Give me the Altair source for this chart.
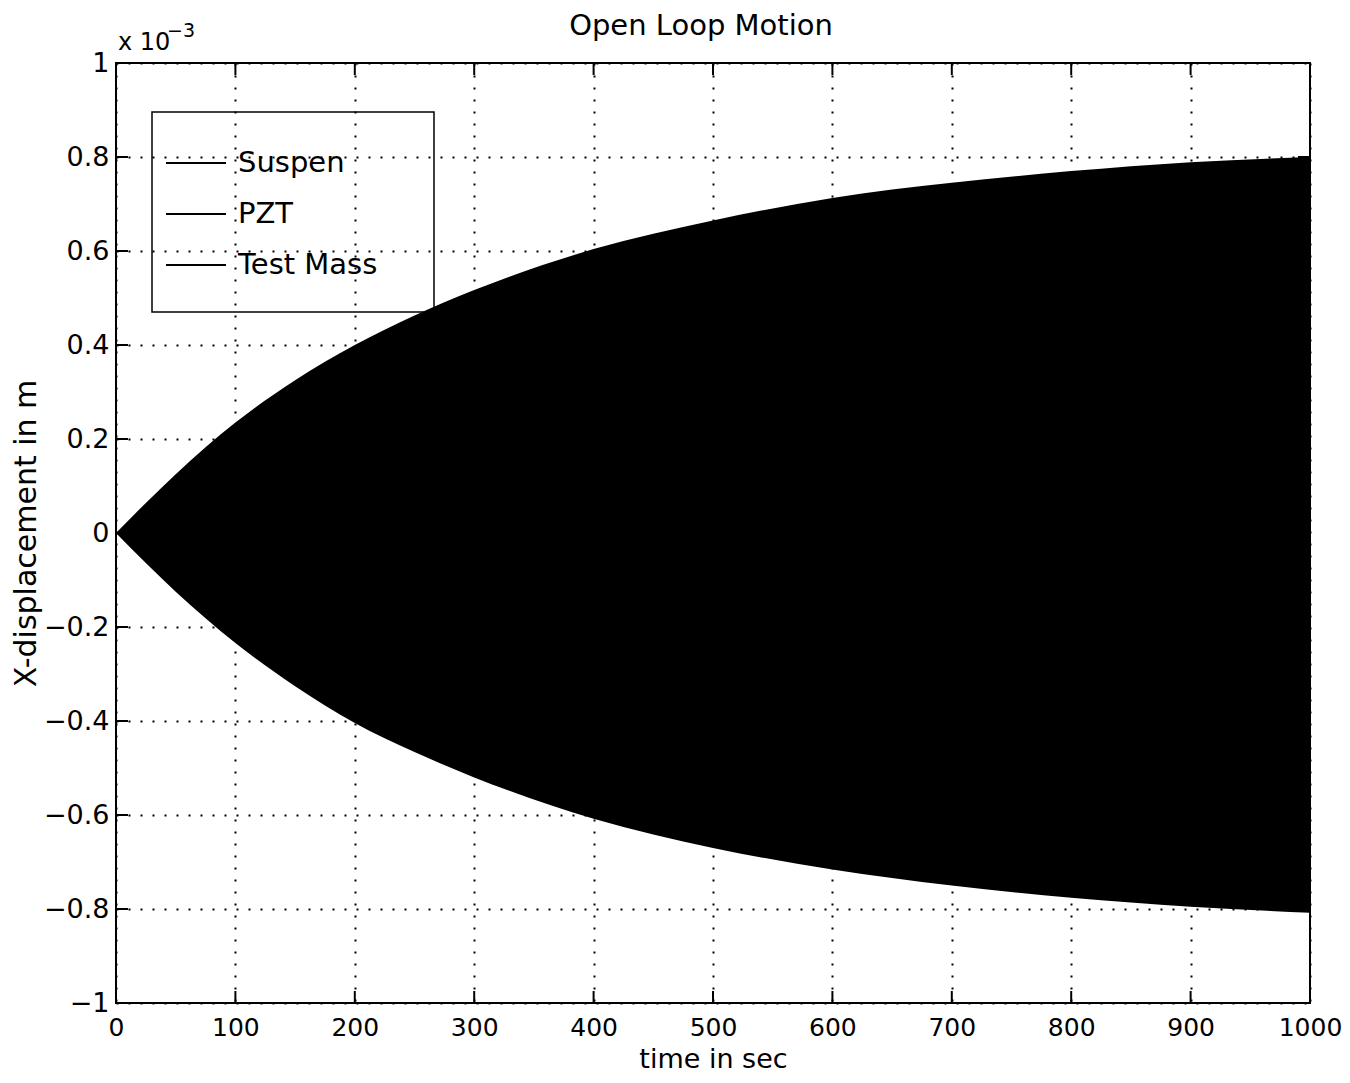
import altair as alt
import pandas as pd

# ---- data (displacement in units of 1e-3 m) ----
time_s = [0, 25, 50, 100, 150, 200, 250, 300, 400, 500, 600, 700, 800, 900, 1000]
upper_env = [0, 0.064, 0.125, 0.235, 0.325, 0.400, 0.463, 0.517, 0.604, 0.665, 0.713, 0.745, 0.770, 0.789, 0.800]
lower_env = [0, -0.064, -0.125, -0.234, -0.326, -0.404, -0.466, -0.520, -0.608, -0.670, -0.716, -0.750, -0.776, -0.795, -0.808]
series_names = ["Suspen", "PZT", "Test Mass"]
x_ticks = [0, 100, 200, 300, 400, 500, 600, 700, 800, 900, 1000]
y_ticks = [-1, -0.8, -0.6, -0.4, -0.2, 0, 0.2, 0.4, 0.6, 0.8, 1]
title_text = "Open Loop Motion"

W, H = 1194, 940
FONT = "DejaVu Sans"
TICK = 12

env_df = pd.DataFrame({
    "t": time_s,
    "upper": upper_env,
    "lower": lower_env,
    "series": ["Test Mass"] * len(time_s),
})
xt_df = pd.DataFrame({"t": x_ticks})
yt_df = pd.DataFrame({"upper": y_ticks})

x_scale = alt.Scale(domain=[0, 1000], nice=False, zero=False)
y_scale = alt.Scale(domain=[-1, 1], nice=False, zero=False)

x_axis = alt.Axis(values=x_ticks, format="d", title="time in sec",
                  labelFontSize=25, labelPadding=12, ticks=False, tickSize=0,
                  labelFlush=False, labelOverlap=False,
                  domain=False, grid=True, titleFontSize=27, titleFontWeight="normal",
                  titleBaseline="alphabetic", titleY=64)
y_axis = alt.Axis(values=y_ticks, format="~g", title="X-displacement in m",
                  labelFontSize=27, labelPadding=7, ticks=False, tickSize=0,
                  labelFlush=False, labelOverlap=False,
                  domain=False, grid=True, titleFontSize=30, titleFontWeight="normal",
                  titleBaseline="alphabetic", titleX=-81, titleY=H / 2, titleAngle=270)

envelope = alt.Chart(env_df).mark_area(interpolate="monotone").encode(
    x=alt.X("t:Q", scale=x_scale, axis=x_axis),
    y=alt.Y("upper:Q", scale=y_scale, axis=y_axis),
    y2="lower:Q",
    color=alt.Color(
        "series:N",
        scale=alt.Scale(domain=series_names, range=["black", "black", "black"]),
        legend=alt.Legend(
            title=None, orient="none", legendX=49, legendY=86, padding=0,
            symbolType="stroke", symbolSize=3600, symbolStrokeColor="black",
            symbolStrokeWidth=1.8, symbolFillColor="black",
            labelFontSize=29, labelFont=FONT, labelOffset=11, labelColor="black",
            clipHeight=28, rowPadding=22,
        ),
    ),
)

bottom_ticks = alt.Chart(xt_df).mark_rule(color="black", strokeWidth=2).encode(
    x=alt.X("t:Q", title="time in sec"), y=alt.value(H), y2=alt.value(H - TICK))
top_ticks = alt.Chart(xt_df).mark_rule(color="black", strokeWidth=2).encode(
    x=alt.X("t:Q", title="time in sec"), y=alt.value(0), y2=alt.value(TICK))
left_ticks = alt.Chart(yt_df).mark_rule(color="black", strokeWidth=2).encode(
    y=alt.Y("upper:Q", title="X-displacement in m"), x=alt.value(0), x2=alt.value(TICK))
right_ticks = alt.Chart(yt_df).mark_rule(color="black", strokeWidth=2).encode(
    y=alt.Y("upper:Q", title="X-displacement in m"), x=alt.value(W), x2=alt.value(W - TICK))

one = alt.Data(values=[{"k": 1}])
legend_box = alt.Chart(one).mark_rect(fillOpacity=0, stroke="black", strokeWidth=1.5).encode(
    x=alt.value(36), x2=alt.value(318), y=alt.value(49), y2=alt.value(249))

title_mark = alt.Chart(one).mark_text(text=title_text, font=FONT, fontSize=29, align="center",
                                      baseline="alphabetic", color="black").encode(
    x=alt.value(585), y=alt.value(-28))
exp_base = alt.Chart(one).mark_text(text="x 10", font=FONT, fontSize=24, align="left",
                                    baseline="alphabetic", color="black").encode(
    x=alt.value(2), y=alt.value(-13))
exp_sup = alt.Chart(one).mark_text(text="\u22123", font=FONT, fontSize=19, align="left",
                                   baseline="alphabetic", color="black").encode(
    x=alt.value(51), y=alt.value(-26))

chart = alt.layer(
    envelope, bottom_ticks, top_ticks, left_ticks, right_ticks, legend_box,
    title_mark, exp_base, exp_sup
).properties(
    width=W, height=H,
    autosize=alt.AutoSizeParams(type="none"),
    padding={"left": 108, "top": 55, "right": 32, "bottom": 72},
).configure(
    font=FONT,
).configure_view(
    stroke="black", strokeWidth=2,
).configure_axis(
    labelFont=FONT, titleFont=FONT, labelColor="black", titleColor="black",
    gridColor="black", gridOpacity=1, gridWidth=2, gridDash=[2, 10],
)

chart.save("out.html", embed_options={"renderer": "svg", "actions": False})
